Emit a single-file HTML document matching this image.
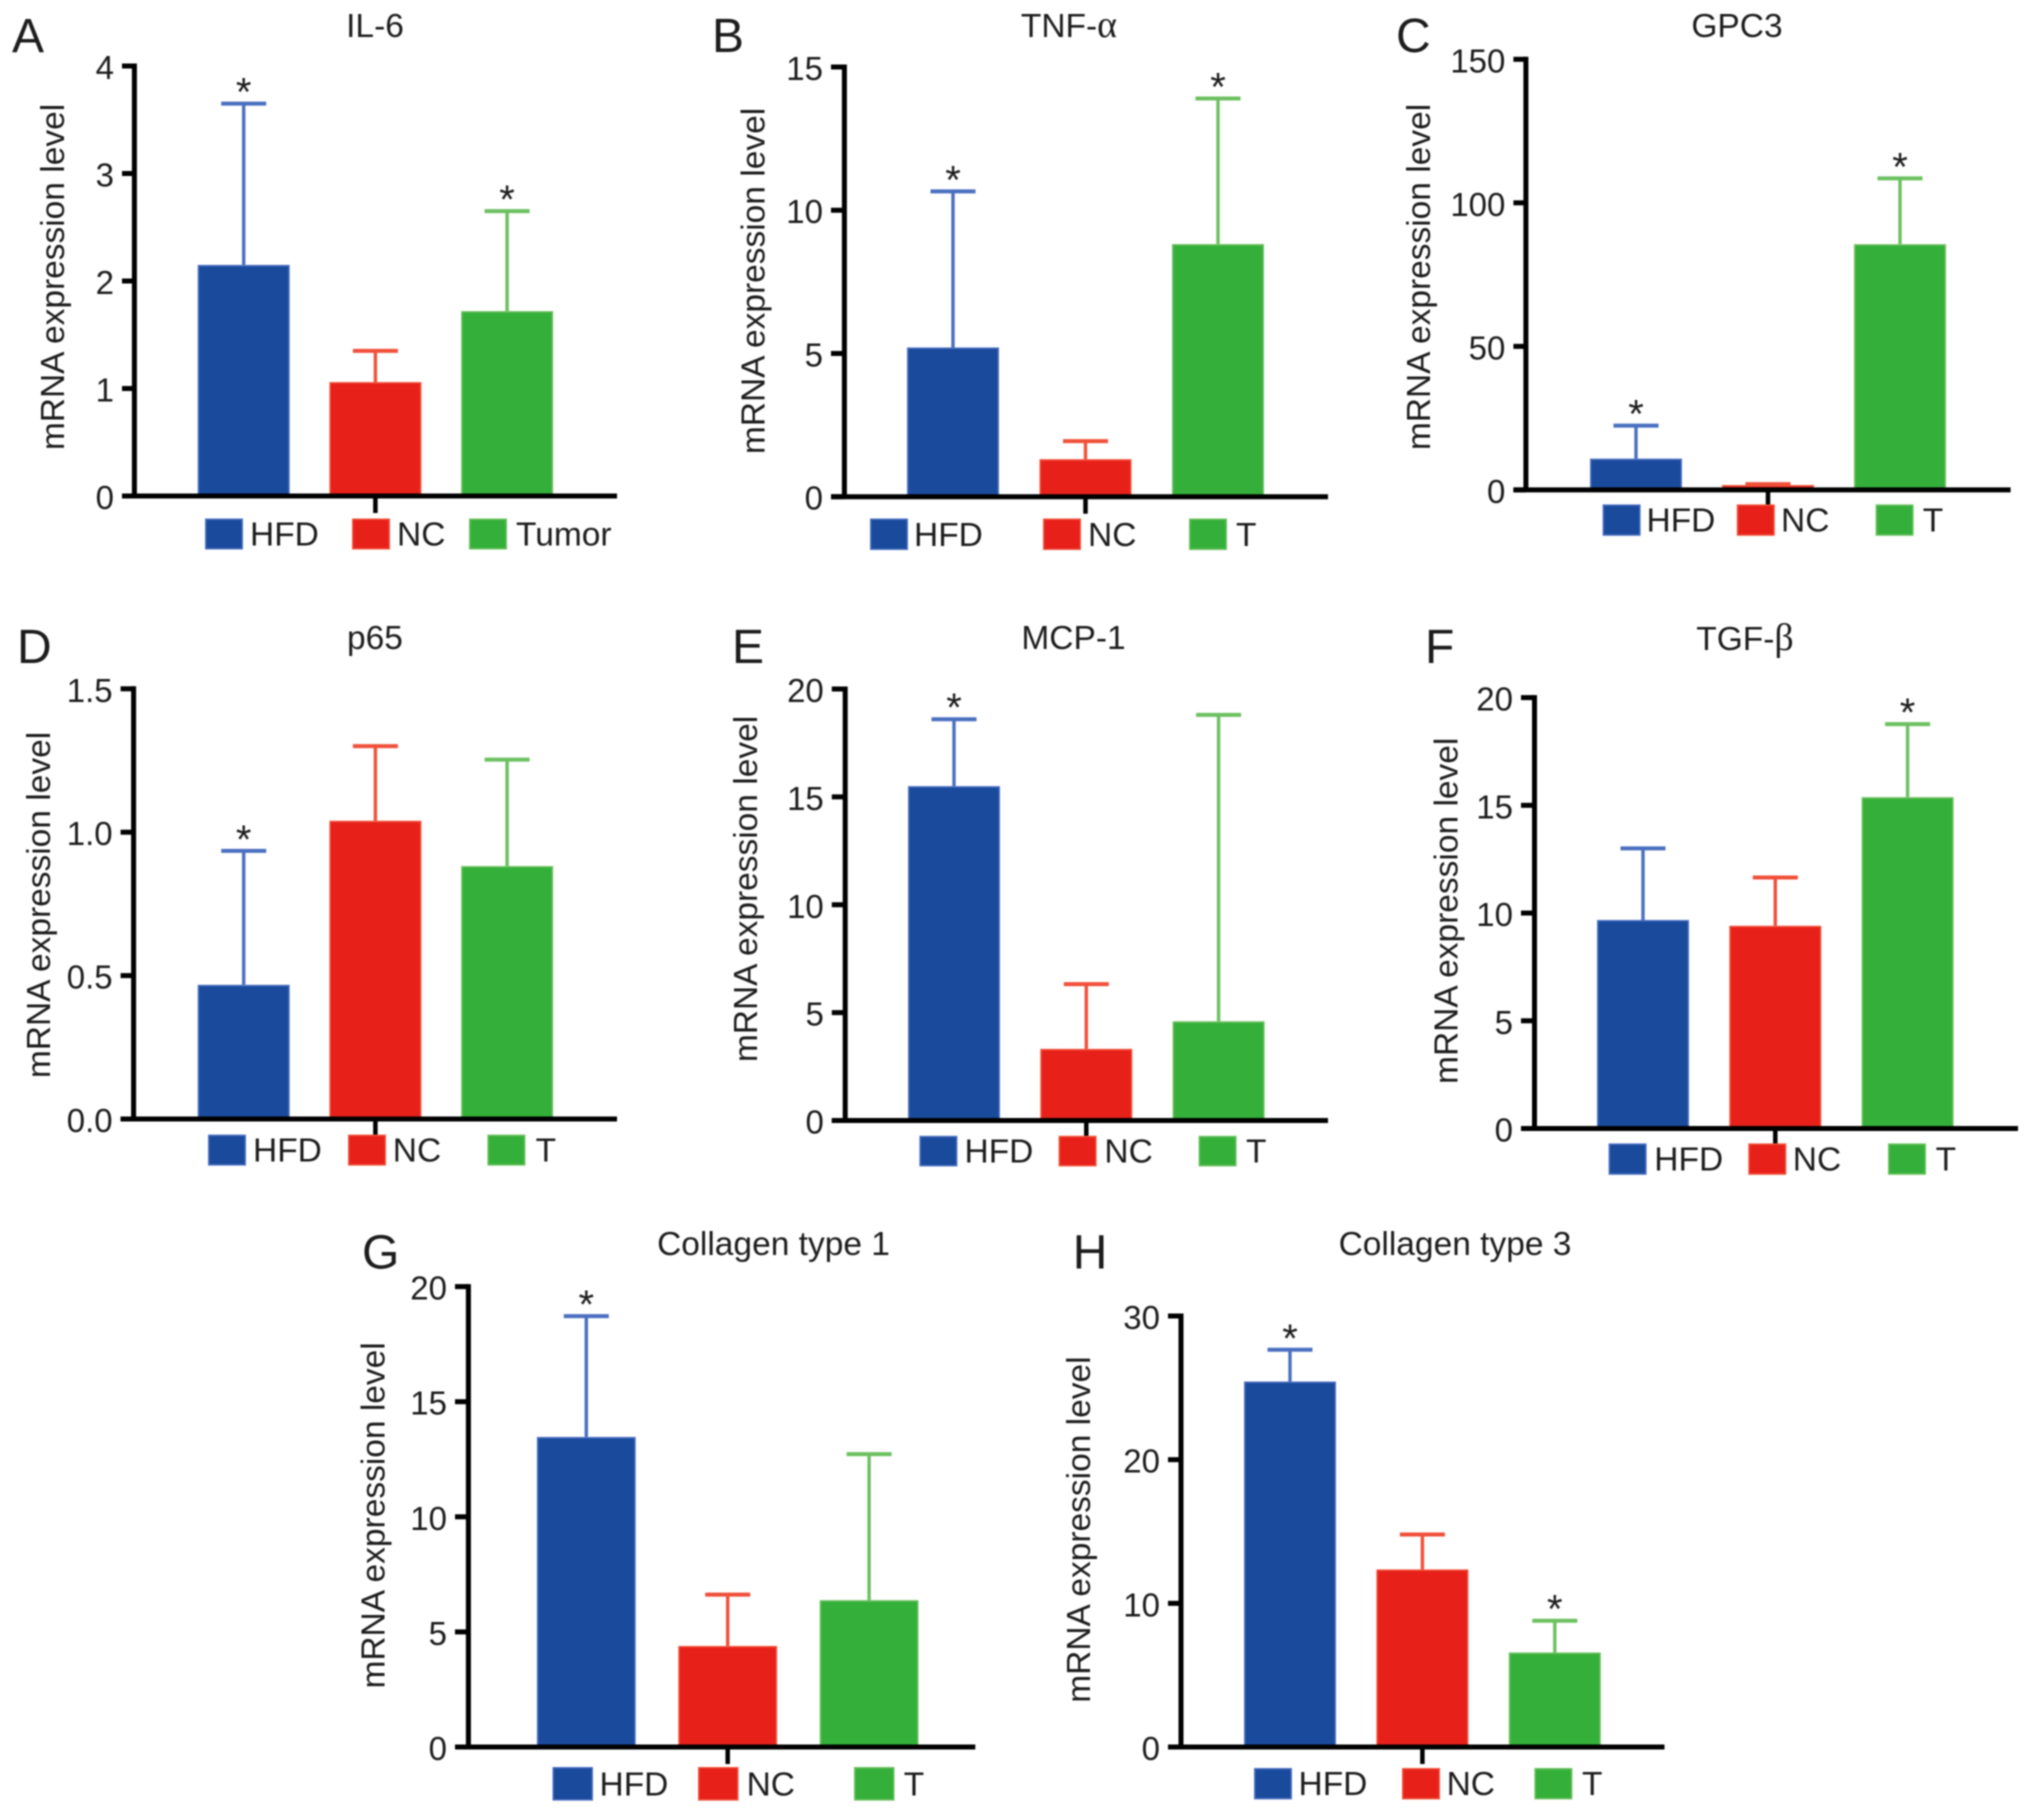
<!DOCTYPE html>
<html lang="en">
<head>
<meta charset="utf-8">
<title>mRNA expression level panels</title>
<style>
html,body{margin:0;padding:0;background:#fff;}
body{width:2032px;height:1815px;overflow:hidden;}
svg{display:block;filter:blur(0.8px);}
text{font-family:"Liberation Sans",sans-serif;fill:#1c1c1c;}
</style>
</head>
<body>
<svg id="figure" width="2032" height="1815" viewBox="0 0 2032 1815" xmlns="http://www.w3.org/2000/svg"></svg>
<script>
// ---- Values ----
const panelA_title = 'IL-6';
const panelA_categories = ['HFD', 'NC', 'Tumor'];
const panelA_means = [2.15, 1.06, 1.72];
const panelA_upper = [3.65, 1.35, 2.65];
const panelA_significant = [true, false, true];
const panelA_ticks = ['0', '1', '2', '3', '4'];

const panelB_title = 'TNF-α';
const panelB_categories = ['HFD', 'NC', 'T'];
const panelB_means = [5.21, 1.31, 8.82];
const panelB_upper = [10.66, 1.94, 13.9];
const panelB_significant = [true, false, true];
const panelB_ticks = ['0', '5', '10', '15'];

const panelC_title = 'GPC3';
const panelC_categories = ['HFD', 'NC', 'T'];
const panelC_means = [10.9, 1.7, 85.6];
const panelC_upper = [22.4, 2, 108.5];
const panelC_significant = [true, false, true];
const panelC_ticks = ['0', '50', '100', '150'];

const panelD_title = 'p65';
const panelD_categories = ['HFD', 'NC', 'T'];
const panelD_means = [0.468, 1.04, 0.882];
const panelD_upper = [0.935, 1.30, 1.253];
const panelD_significant = [true, false, false];
const panelD_ticks = ['0.0', '0.5', '1.0', '1.5'];

const panelE_title = 'MCP-1';
const panelE_categories = ['HFD', 'NC', 'T'];
const panelE_means = [15.5, 3.32, 4.6];
const panelE_upper = [18.6, 6.32, 18.8];
const panelE_significant = [true, false, false];
const panelE_ticks = ['0', '5', '10', '15', '20'];

const panelF_title = 'TGF-β';
const panelF_categories = ['HFD', 'NC', 'T'];
const panelF_means = [9.68, 9.41, 15.38];
const panelF_upper = [13.0, 11.65, 18.77];
const panelF_significant = [false, false, true];
const panelF_ticks = ['0', '5', '10', '15', '20'];

const panelG_title = 'Collagen type 1';
const panelG_categories = ['HFD', 'NC', 'T'];
const panelG_means = [13.47, 4.39, 6.38];
const panelG_upper = [18.72, 6.62, 12.72];
const panelG_significant = [true, false, false];
const panelG_ticks = ['0', '5', '10', '15', '20'];

const panelH_title = 'Collagen type 3';
const panelH_categories = ['HFD', 'NC', 'T'];
const panelH_means = [25.44, 12.36, 6.58];
const panelH_upper = [27.65, 14.79, 8.79];
const panelH_significant = [true, false, true];
const panelH_ticks = ['0', '10', '20', '30'];

const yAxisTitle = 'mRNA expression level';

// ---- Styling ----
const barFill = ['#1a4a9c', '#e8201a', '#34b03a'];
const barEdge = ['#4a6fc0', '#f0503a', '#6cc060'];

// ---- Layout of each panel (pixels) ----
const panels = [
  {id:'a', letter:'A', lx:12, ly:52, tx:375, ty:37, ytx:64, yty:277, ax:134.4, top:66, base:496, left:122, right:617, barStart:197.7, step:131.7, barW:92, lgTop:518.5, lgH:31, lgW:38, swatch:[205,352,469], label:[250,397,516],
   title:panelA_title, categories:panelA_categories, means:panelA_means, upper:panelA_upper, significant:panelA_significant, ticks:panelA_ticks},
  {id:'b', letter:'B', lx:712, ly:52, tx:1069, ty:37, ytx:764.6, yty:281, ax:844.4, top:67, base:496.7, left:831, right:1328, barStart:907, step:132.5, barW:92, lgTop:518.5, lgH:31.5, lgW:38, swatch:[870,1043,1189], label:[914,1088,1236],
   title:panelB_title, categories:panelB_categories, means:panelB_means, upper:panelB_upper, significant:panelB_significant, ticks:panelB_ticks},
  {id:'c', letter:'C', lx:1396, ly:52, tx:1737, ty:37, ytx:1430, yty:277, ax:1525.9, top:59.3, base:489.9, left:1513.4, right:2010.6, barStart:1590, step:132, barW:92, lgTop:504.4, lgH:31.4, lgW:38, swatch:[1602.6,1736.8,1875.6], label:[1646.5,1781,1922.8],
   title:panelC_title, categories:panelC_categories, means:panelC_means, upper:panelC_upper, significant:panelC_significant, ticks:panelC_ticks},
  {id:'d', letter:'D', lx:17, ly:663, tx:375, ty:649, ytx:50, yty:905, ax:133.6, top:688.8, base:1119, left:120.6, right:617, barStart:197.7, step:131.7, barW:92, lgTop:1134.6, lgH:31, lgW:38, swatch:[208,348,487.4], label:[253,392.8,535.6],
   title:panelD_title, categories:panelD_categories, means:panelD_means, upper:panelD_upper, significant:panelD_significant, ticks:panelD_ticks},
  {id:'e', letter:'E', lx:732, ly:663, tx:1073.5, ty:649, ytx:756.8, yty:889, ax:845.2, top:689, base:1120.5, left:831.8, right:1328, barStart:908, step:132.3, barW:92, lgTop:1135.8, lgH:30.6, lgW:38, swatch:[919.4,1058.6,1198.6], label:[964.5,1104.4,1246],
   title:panelE_title, categories:panelE_categories, means:panelE_means, upper:panelE_upper, significant:panelE_significant, ticks:panelE_ticks},
  {id:'f', letter:'F', lx:1425, ly:663, tx:1745, ty:650, ytx:1457.7, yty:910.8, ax:1534.5, top:697.6, base:1128.5, left:1521, right:2018, barStart:1597, step:132.3, barW:92, lgTop:1143.4, lgH:31.4, lgW:38, swatch:[1608.6,1748.3,1888], label:[1654.3,1792.8,1935.6],
   title:panelF_title, categories:panelF_categories, means:panelF_means, upper:panelF_upper, significant:panelF_significant, ticks:panelF_ticks},
  {id:'g', letter:'G', lx:362, ly:1268.6, tx:773.5, ty:1255, ytx:384.7, yty:1515.4, ax:468.4, top:1286.6, base:1747, left:455, right:975.3, barStart:536.9, step:141.4, barW:98.8, lgTop:1767, lgH:33.6, lgW:40.5, swatch:[552.5,698,854], label:[599.5,746.6,903.7],
   title:panelG_title, categories:panelG_categories, means:panelG_means, upper:panelG_upper, significant:panelG_significant, ticks:panelG_ticks},
  {id:'h', letter:'H', lx:1072.7, ly:1268.6, tx:1455, ty:1255, ytx:1090, yty:1529.6, ax:1181, top:1316, base:1747, left:1168, right:1664.5, barStart:1244, step:132.4, barW:92, lgTop:1768, lgH:31.4, lgW:38, swatch:[1254,1402,1534.4], label:[1298.5,1446.6,1582],
   title:panelH_title, categories:panelH_categories, means:panelH_means, upper:panelH_upper, significant:panelH_significant, ticks:panelH_ticks}
];

const NS = 'http://www.w3.org/2000/svg';
const figure = document.getElementById('figure');

function make(tag, attrs, parent) {
  const node = document.createElementNS(NS, tag);
  for (const k in attrs) node.setAttribute(k, attrs[k]);
  parent.appendChild(node);
  return node;
}

function drawPanel(p) {
  const g = make('g', {}, figure);
  
  

  // axis functions
  const yMax = Number(p.ticks[p.ticks.length - 1]);
  const yScale = v => p.base - (v / yMax) * (p.base - p.top);
  const barLeft = i => p.barStart + i * p.step;
  const barCenter = i => barLeft(i) + p.barW / 2;

  // panel letter
  let el = make('text', {x: p.lx, y: p.ly, 'font-size': 48}, g);
  el.textContent = p.letter;
  
  

  // panel title (greek letters in the serif face)
  el = make('text', {x: p.tx, y: p.ty, 'font-size': 33.5, 'text-anchor': 'middle'}, g);
  const parts = p.title.split(/([αβ])/);
  parts.forEach(part => {
    if (!part) return;
    const span = make('tspan', /[αβ]/.test(part) ? {style: 'font-family:"Liberation Serif",serif;font-size:38px'} : {}, el);
    span.textContent = part;
  });
  
  

  // y axis title
  el = make('text', {x: 0, y: 0, 'font-size': 33.5, 'text-anchor': 'middle', transform: 'translate(' + p.ytx + ' ' + p.yty + ') rotate(-90)'}, g);
  el.textContent = yAxisTitle;
  
  

  // bars and error bars
  p.means.forEach((m, i) => {
    const cx = barCenter(i);
    const top = yScale(p.upper[i]);
    const barTop = yScale(m);

    el = make('line', {x1: cx, x2: cx, y1: barTop, y2: top, stroke: barEdge[i], 'stroke-width': 3.4}, g);
    
    

    el = make('line', {x1: cx - 22.5, x2: cx + 22.5, y1: top, y2: top, stroke: barEdge[i], 'stroke-width': 4}, g);
    
    

    el = make('rect', {x: barLeft(i) + 0.75, y: barTop + 0.75, width: p.barW - 1.5, height: Math.max(p.base - barTop - 0.75, 0), fill: barFill[i], stroke: barEdge[i], 'stroke-width': 1.5}, g);
    
    

    if (p.significant[i]) {
      el = make('text', {x: cx, y: top + 2, 'font-size': 40, 'text-anchor': 'middle'}, g);
      el.textContent = '*';
      
      
    }
  });

  // y axis + ticks
  el = make('line', {x1: p.ax, x2: p.ax, y1: p.top - 2.5, y2: p.base, stroke: '#000', 'stroke-width': 5}, g);
  
  

  p.ticks.forEach(t => {
    const y = yScale(Number(t));
    let tick = make('line', {x1: p.left, x2: p.ax, y1: y, y2: y, stroke: '#000', 'stroke-width': 5}, g);
    
    

    tick = make('text', {x: p.left - 8, y: y + 13, 'font-size': 33, 'text-anchor': 'end'}, g);
    tick.textContent = t;
    
    
  });

  // x axis + centre tick
  el = make('line', {x1: p.left, x2: p.right, y1: p.base, y2: p.base, stroke: '#000', 'stroke-width': 5}, g);
  
  

  el = make('line', {x1: barCenter(1), x2: barCenter(1), y1: p.base, y2: p.base + 17, stroke: '#000', 'stroke-width': 4.5}, g);
  
  

  // legend
  p.categories.forEach((c, i) => {
    let item = make('rect', {x: p.swatch[i] + 0.75, y: p.lgTop + 0.75, width: p.lgW - 1.5, height: p.lgH - 1.5, fill: barFill[i], stroke: barEdge[i], 'stroke-width': 1.5}, g);
    
    

    item = make('text', {x: p.label[i], y: p.lgTop + p.lgH / 2 + 11.5, 'font-size': 33.5}, g);
    item.textContent = c;
    
    
  });
}

panels.forEach(drawPanel);
</script>
</body>
</html>
